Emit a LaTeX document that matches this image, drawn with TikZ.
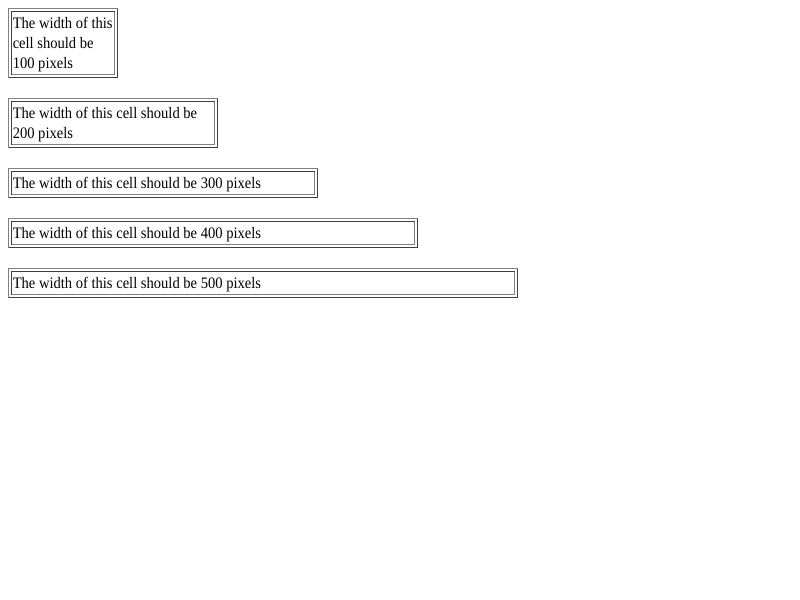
\documentclass[tikz,border=0pt]{standalone}
\usepackage{fontspec}
\setmainfont[FakeStretch=0.91]{Liberation Serif}
\usepackage{tikz}
\definecolor{edgelite}{HTML}{808080}
\definecolor{edgedark}{HTML}{404040}

\begin{document}
\begin{tikzpicture}[
x=0.75pt,y=-0.75pt,
frame/.style={
  rectangle,
  inner sep=0pt,
  outer sep=0pt
},
lite/.style={
  draw=edgelite,
  line width=0.75pt
},
dark/.style={
  draw=edgedark,
  line width=0.75pt
},
txt/.style={
  inner sep=0pt,
  align=left,
  anchor=base west,
  font=\fontsize{12}{15}\selectfont
}
]
\useasboundingbox[fill=white] (0,0) rectangle (800,600);

\foreach \i/\top/\h/\lbl [evaluate=\i as \w using int(100*\i+10)] in {
  1/8/70/{The width of this\\cell should be\\100 pixels},
  2/98/50/{The width of this cell should be\\200 pixels},
  3/168/30/{The width of this cell should be 300 pixels},
  4/218/30/{The width of this cell should be 400 pixels},
  5/268/30/{The width of this cell should be 500 pixels}}
{
% table and its cell
\node[frame,minimum width={(\w-1)*0.75pt},minimum height={(\h-1)*0.75pt}]
  (tab\i) at (8+\w/2,\top+\h/2) {};
\node[frame,minimum width={(\w-7)*0.75pt},minimum height={(\h-7)*0.75pt}]
  (cell\i) at (8+\w/2,\top+\h/2) {};

\draw[lite] (tab\i.south west) -- (tab\i.north west) -- (tab\i.north east);
\draw[dark] (tab\i.north east) -- (tab\i.south east) -- (tab\i.south west);
\draw[dark] (cell\i.south west) -- (cell\i.north west) -- (cell\i.north east);
\draw[lite] (cell\i.north east) -- (cell\i.south east) -- (cell\i.south west);

% base anchor sits on the last line
\node[txt] (txt\i) at (12.5,\top+\h-9.5) {\lbl};
}

\end{tikzpicture}
\end{document}
